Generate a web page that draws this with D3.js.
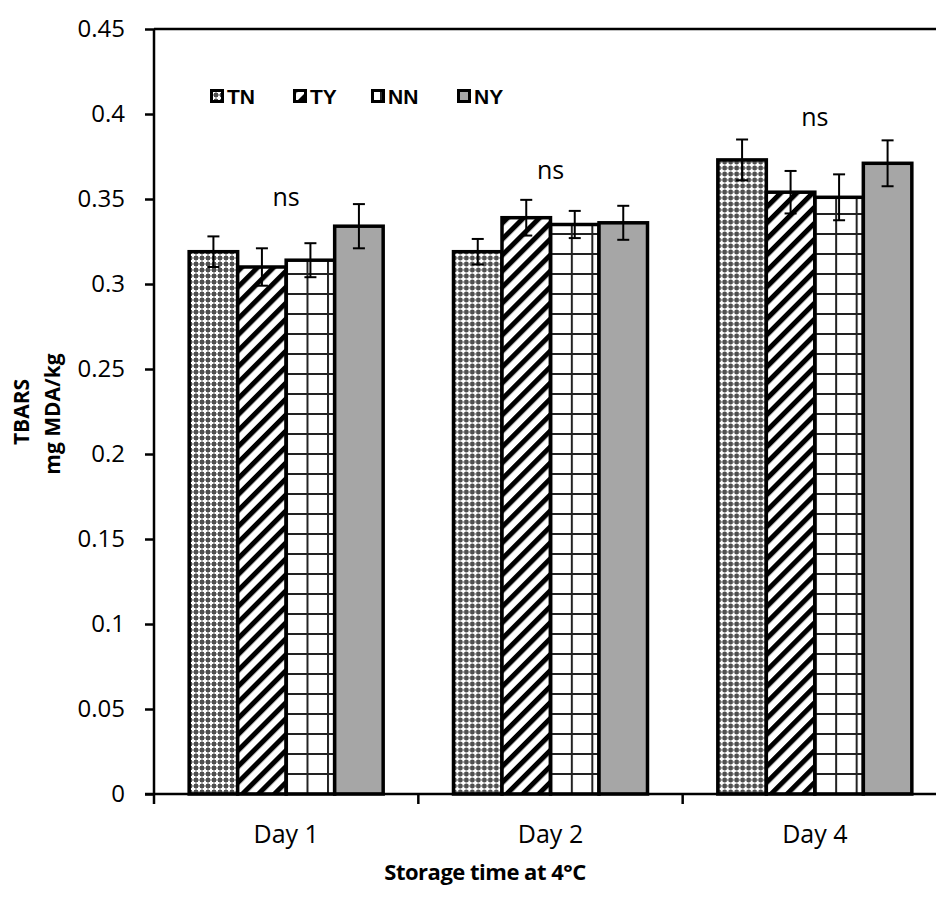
<!DOCTYPE html>
<html>
<head>
<meta charset="utf-8">
<script src="https://cdn.jsdelivr.net/npm/d3@7"></script>
<style>
  body { margin: 0; background: #fff; }
  svg { display: block; }
</style>
</head>
<body>
<div id="chart"></div>
<script>
// chart data
var days = ["Day 1", "Day 2", "Day 4"];
var treatments = ["TN", "TY", "NN", "NY"];
var tnValues = [0.319, 0.319, 0.373];
var tyValues = [0.310, 0.339, 0.354];
var nnValues = [0.314, 0.335, 0.351];
var nyValues = [0.334, 0.336, 0.371];
var tnErrors = [0.009, 0.0075, 0.012];
var tyErrors = [0.011, 0.0105, 0.0125];
var nnErrors = [0.010, 0.008, 0.0135];
var nyErrors = [0.013, 0.010, 0.0135];
var nsLabels = ["ns", "ns", "ns"];
var nsLevels = [0.346, 0.362, 0.393];
var yTicks = [0, 0.05, 0.1, 0.15, 0.2, 0.25, 0.3, 0.35, 0.4, 0.45];

var seriesValues = [tnValues, tyValues, nnValues, nyValues];
var seriesErrors = [tnErrors, tyErrors, nnErrors, nyErrors];

var width = 936, height = 906;

var svg = d3.select("#chart")
	.append("svg")
	.attr("width", width)
	.attr("height", height);

// fill patterns like the excel chart
var defs = svg.append("defs");

var dotPattern = defs.append("pattern")
	.attr("id", "fill-TN")
	.attr("patternUnits", "userSpaceOnUse")
	.attr("width", 6).attr("height", 6);
dotPattern.append("rect").attr("width", 6).attr("height", 6).attr("fill", "#505050");
dotPattern.append("rect").attr("x", 2).attr("y", 0.5).attr("width", 2).attr("height", 5).attr("fill", "#fff");
dotPattern.append("rect").attr("x", 0.5).attr("y", 2).attr("width", 5).attr("height", 2).attr("fill", "#fff");

var stripePattern = defs.append("pattern")
	.attr("id", "fill-TY")
	.attr("patternUnits", "userSpaceOnUse")
	.attr("width", 11.3).attr("height", 11.3)
	.attr("patternTransform", "rotate(45)");
stripePattern.append("rect").attr("width", 11.3).attr("height", 11.3).attr("fill", "#fff");
stripePattern.append("rect").attr("x", 0).attr("width", 5).attr("height", 11.3).attr("fill", "#000");

var gridPattern = defs.append("pattern")
	.attr("id", "fill-NN")
	.attr("patternUnits", "userSpaceOnUse")
	.attr("width", 20.5).attr("height", 20)
	.attr("x", 296).attr("y", 13);
gridPattern.append("rect").attr("width", 20.5).attr("height", 20).attr("fill", "#fff");
gridPattern.append("rect").attr("x", 0).attr("width", 2).attr("height", 20).attr("fill", "#222");
gridPattern.append("rect").attr("y", 0).attr("width", 20.5).attr("height", 2).attr("fill", "#222");

var fills = {TN: "url(#fill-TN)", TY: "url(#fill-TY)", NN: "url(#fill-NN)", NY: "#a6a6a6"};

// plot area edges (the right edge lies past the window, as in the reference)
var plotLeft = 154, plotRight = 947, plotTop = 29, plotBottom = 794;

var x = d3.scaleBand()
	.domain(days)
	.range([plotLeft, plotRight])
	.paddingInner(0)
	.paddingOuter(0);

var xInner = d3.scaleBand()
	.domain(treatments)
	.range([0, x.bandwidth()])
	.paddingInner(0)
	.paddingOuter(0.725);

var y = d3.scaleLinear()
	.domain([0, 0.45])
	.range([plotBottom, plotTop]);

// top border of plot area
svg.append("line")
	.attr("x1", plotLeft).attr("x2", width)
	.attr("y1", plotTop).attr("y2", plotTop)
	.attr("stroke", "#000").attr("stroke-width", 2.5);

// bars
var groups = svg.selectAll("g.day")
	.data(days)
	.enter()
	.append("g")
	.attr("class", "day")
	.attr("transform", function(d){ return "translate(" + x(d) + ",0)"; });

groups.each(function(day, i){

	var g = d3.select(this);
	treatments.forEach(function(t, j){
		var v = seriesValues[j][i];
		g.append("rect")
			.attr("x", xInner(t))
			.attr("y", y(v))
			.attr("width", xInner.bandwidth())
			.attr("height", y(0) - y(v))
			.attr("fill", fills[t])
			.attr("stroke", "#000")
			.attr("stroke-width", 3.5);
	});
});

// error bars
groups.each(function(day, i){

	var g = d3.select(this);
	treatments.forEach(function(t, j){
		var v = seriesValues[j][i], e = seriesErrors[j][i];
		var cx = xInner(t) + xInner.bandwidth() / 2;
		g.append("line")
			.attr("x1", cx).attr("x2", cx)
			.attr("y1", y(v - e)).attr("y2", y(v + e))
			.attr("stroke", "#000").attr("stroke-width", 2);
		[v - e, v + e].forEach(function(c){
			g.append("line")
				.attr("x1", cx - 6).attr("x2", cx + 6)
				.attr("y1", y(c)).attr("y2", y(c))
				.attr("stroke", "#000").attr("stroke-width", 2);
		});
	});
});

// ns labels
svg.selectAll("text.ns")
	.data(days)
	.enter()
	.append("text")
	.attr("class", "ns")
	.attr("x", function(d){ return x(d) + x.bandwidth() / 2; })
	.attr("y", function(d, i){ return y(nsLevels[i]); })
	.attr("text-anchor", "middle")
	.style("font-family", "'Open Sans', sans-serif")
	.style("font-size", "25px")
	.text(function(d, i){ return nsLabels[i]; });

// y axis
var yAxis = svg.append("g")
	.attr("transform", "translate(" + plotLeft + ",0)")
	.call(d3.axisLeft(y).tickValues(yTicks).tickSize(9).tickPadding(20).tickFormat(d3.format("")));
yAxis.select(".domain").attr("stroke-width", 2.5).attr("d", "M0," + plotTop + "V" + plotBottom);
yAxis.selectAll(".tick line").attr("stroke-width", 2.5);
yAxis.selectAll(".tick text")
	.style("font-family", "'Open Sans', sans-serif")
	.style("font-size", "24px")
	.attr("fill", "#000");

// x axis
var xAxis = svg.append("g")
	.attr("transform", "translate(0," + plotBottom + ")")
	.call(d3.axisBottom(x).tickSize(0).tickPadding(31));
xAxis.select(".domain").attr("stroke-width", 2.5).attr("d", "M" + (plotLeft - 9) + ",0H" + width);
xAxis.selectAll(".tick text")
	.style("font-family", "'Open Sans', sans-serif")
	.style("font-size", "25px")
	.attr("fill", "#000");
xAxis.selectAll("line.sep")
	.data(days)
	.enter()
	.append("line")
	.attr("class", "sep")
	.attr("x1", function(d){ return x(d); })
	.attr("x2", function(d){ return x(d); })
	.attr("y1", 0).attr("y2", 10)
	.attr("stroke", "#000").attr("stroke-width", 2.5);

// axis titles
svg.append("text")
	.attr("transform", "translate(29,412) rotate(-90)")
	.attr("text-anchor", "middle")
	.style("font-family", "'Open Sans', sans-serif")
	.style("font-weight", "bold")
	.style("font-size", "21px")
	.text("TBARS");
svg.append("text")
	.attr("transform", "translate(60,414) rotate(-90)")
	.attr("text-anchor", "middle")
	.style("font-family", "'Open Sans', sans-serif")
	.style("font-weight", "bold")
	.style("font-size", "21px")
	.text("mg MDA/kg");
svg.append("text")
	.attr("x", 485).attr("y", 880)
	.attr("text-anchor", "middle")
	.style("font-family", "'Open Sans', sans-serif")
	.style("font-weight", "bold")
	.style("font-size", "22px")
	.style("letter-spacing", "-0.5px")
	.text("Storage time at 4°C");

// legend
var legendX = [210, 293, 371, 457];
var legend = svg.selectAll("g.legend")
	.data(treatments)
	.enter()
	.append("g")
	.attr("class", "legend")
	.attr("transform", function(d, i){ return "translate(" + legendX[i] + ",89)"; });
legend.append("rect")
	.attr("x", 1.5).attr("y", 1.5)
	.attr("width", 11).attr("height", 11)
	.attr("fill", function(d){ return fills[d]; })
	.attr("stroke", "#000").attr("stroke-width", 3);
legend.append("text")
	.attr("x", 17).attr("y", 15)
	.style("font-family", "'Liberation Sans', Arial, sans-serif")
	.style("font-weight", "bold")
	.style("font-size", "21px")
	.text(function(d){ return d; });
</script>
</body>
</html>
